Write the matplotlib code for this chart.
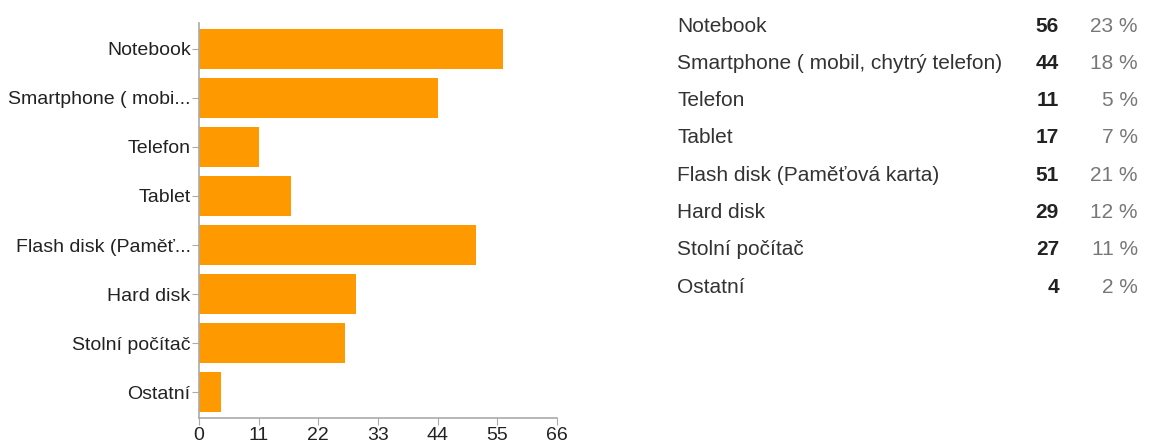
import numpy as np
import matplotlib.pyplot as plt

# odpovedi na otazku o zarizenich
kategorie = ["Notebook", "Smartphone ( mobil, chytrý telefon)", "Telefon", "Tablet",
             "Flash disk (Paměťová karta)", "Hard disk", "Stolní počítač", "Ostatní"]
popisky_osy = ["Notebook", "Smartphone ( mobi...", "Telefon", "Tablet",
               "Flash disk (Paměť...", "Hard disk", "Stolní počítač", "Ostatní"]
pocty = [56, 44, 11, 17, 51, 29, 27, 4]
procenta = [23, 18, 5, 7, 21, 12, 11, 2]
x_ticky = [0, 11, 22, 33, 44, 55, 66]

plt.rcParams['font.family'] = ['Liberation Sans', 'DejaVu Sans']

W, H = 1149, 446
fig = plt.figure(figsize=(W / 100, H / 100), dpi=100)

# sloupcovy graf vlevo
ax = fig.add_axes([199 / W, (H - 418) / H, (557 - 199) / W, (418 - 23) / H])
y = np.arange(len(pocty))
ax.barh(y, pocty, height=0.82, color="#ff9900")
ax.set_ylim(len(pocty) - 0.47, -0.53)
ax.set_xlim(0, 66)
ax.set_xticks(x_ticky)
ax.set_yticks(y)
ax.set_yticklabels(popisky_osy)
for s in ["top", "right"]:
    ax.spines[s].set_visible(False)
for s in ["left", "bottom"]:
    ax.spines[s].set_color("#aaaaaa")
    ax.spines[s].set_linewidth(1.2)
ax.tick_params(axis="y", length=5, color="#aaaaaa", labelsize=14, labelcolor="#222222", pad=1)
ax.tick_params(axis="x", length=5, color="#aaaaaa", labelsize=14, labelcolor="#222222", pad=1.5)

# tabulka vpravo
for i, (k, n, p) in enumerate(zip(kategorie, pocty, procenta)):
    yy = (H - 26 - i * 37.3) / H
    fig.text(677 / W, yy, k, fontsize=15, color="#333333", va="center", ha="left")
    fig.text(1059 / W, yy, str(n), fontsize=15, color="#222222", fontweight="bold",
             va="center", ha="right")
    fig.text(1138 / W, yy, f"{p} %", fontsize=15, color="#777777", va="center", ha="right")

fig.savefig("out.png", dpi=100)
